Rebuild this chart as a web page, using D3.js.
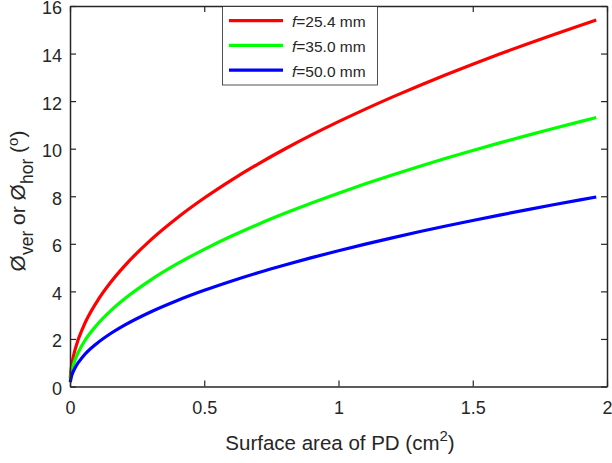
<!DOCTYPE html>
<html>
<head>
<meta charset="utf-8">
<script src="https://cdn.jsdelivr.net/npm/d3@7"></script>
<style>
  html, body { margin: 0; padding: 0; background: #fff; }
  svg { display: block; font-family: "Liberation Sans", Arial, sans-serif; }
</style>
</head>
<body>
<svg id="chart" width="612" height="463"></svg>
<script>
// Surface area of the photodiode (cm^2)
const area = [0.001, 0.005, 0.01, 0.02, 0.05, 0.1, 0.15, 0.2, 0.3, 0.4, 0.5, 0.6, 0.7,
  0.8, 0.9, 1.0, 1.1, 1.2, 1.3, 1.4, 1.5, 1.6, 1.7, 1.8, 1.9, 1.96];

// Field-of-view angle (degrees) for each focal length
const fov254 = [0.357, 0.798, 1.128, 1.595, 2.520, 3.562, 4.360, 5.031, 6.154, 7.097, 7.924,
  8.670, 9.353, 9.986, 10.578, 11.136, 11.665, 12.169, 12.650, 13.112, 13.555, 13.982,
  14.395, 14.794, 15.181, 15.410];
const fov350 = [0.259, 0.579, 0.818, 1.157, 1.830, 2.587, 3.167, 3.656, 4.474, 5.163, 5.768,
  6.315, 6.816, 7.281, 7.718, 8.130, 8.521, 8.894, 9.251, 9.594, 9.924, 10.243, 10.551,
  10.850, 11.140, 11.310];
const fov500 = [0.181, 0.405, 0.573, 0.810, 1.281, 1.811, 2.218, 2.561, 3.135, 3.619, 4.045,
  4.429, 4.783, 5.111, 5.419, 5.711, 5.987, 6.251, 6.505, 6.748, 6.982, 7.209, 7.429,
  7.641, 7.848, 7.970];

const seriesNames = ["25.4", "35.0", "50.0"];
const seriesColors = ["#ff0000", "#00ff00", "#0000ff"];
const seriesValues = [fov254, fov350, fov500];

const xTicks = [0, 0.5, 1, 1.5, 2];
const xTickLabels = ["0", "0.5", "1", "1.5", "2"];
const yTicks = [0, 2, 4, 6, 8, 10, 12, 14, 16];

const svg = d3.select("#chart");
const L = 70, R = 607, T = 6, B = 386.5;

const x = d3.scaleLinear().domain([0, 2]).range([L, R]);
const y = d3.scaleLinear().domain([0, 16]).range([B, T]);

const axisColor = "#262626";
const tickLen = 6;
const fontSize = 18;

// Curves
const line = d3.line()
  .x(d => x(d[0]))
  .y(d => y(d[1]))
  .curve(d3.curveMonotoneX);

const plot = svg.append("g");
seriesValues.forEach((vals, i) => {
  plot.append("path")
    .datum(area.map((a, j) => [a, vals[j]]))
    .attr("d", line)
    .attr("fill", "none")
    .attr("stroke", seriesColors[i])
    .attr("stroke-width", 3.2)
    .attr("stroke-linejoin", "round");
});

// Axes: ticks point inward, mirrored on top and right
const axes = svg.append("g");
axes.append("g")
  .attr("transform", `translate(0,${B})`)
  .call(d3.axisBottom(x).tickValues(xTicks).tickFormat((d, i) => xTickLabels[i])
    .tickSizeInner(-tickLen).tickSizeOuter(0).tickPadding(15));
axes.append("g")
  .attr("transform", `translate(0,${T})`)
  .call(d3.axisTop(x).tickValues(xTicks).tickFormat("")
    .tickSizeInner(-tickLen).tickSizeOuter(0));
const yAxisG = axes.append("g")
  .attr("transform", `translate(${L},0)`)
  .call(d3.axisLeft(y).tickValues(yTicks).tickFormat(d3.format("d"))
    .tickSizeInner(-tickLen).tickSizeOuter(0).tickPadding(8));
yAxisG.selectAll(".tick text").attr("dy", "0.44em");
axes.append("g")
  .attr("transform", `translate(${R},0)`)
  .call(d3.axisRight(y).tickValues(yTicks).tickFormat("")
    .tickSizeInner(-tickLen).tickSizeOuter(0));

axes.selectAll(".domain").attr("stroke", axisColor).attr("stroke-width", 1.5);
axes.selectAll(".tick line").attr("stroke", axisColor).attr("stroke-width", 1.2);
axes.selectAll(".tick text")
  .attr("fill", axisColor)
  .style("font-family", "'Liberation Sans', Arial, sans-serif")
  .style("font-size", fontSize + "px");

// Axis titles
const xt = svg.append("text")
  .attr("x", 340).attr("y", 450)
  .attr("text-anchor", "middle")
  .attr("fill", axisColor)
  .style("font-size", "20.5px");
xt.append("tspan").text("Surface area of PD (cm");
xt.append("tspan").attr("dy", -9).style("font-size", "15px").text("2");
xt.append("tspan").attr("dy", 9).text(")");

const yt = svg.append("text")
  .attr("transform", "translate(24.5,201) rotate(-90)")
  .attr("text-anchor", "middle")
  .attr("fill", axisColor)
  .style("font-size", "21px");
yt.append("tspan").text("Ø");
yt.append("tspan").attr("dy", 8).style("font-size", "17.5px").text("ver");
yt.append("tspan").attr("dy", -8).text(" or Ø");
yt.append("tspan").attr("dy", 8).style("font-size", "17.5px").text("hor");
yt.append("tspan").attr("dy", -8).text(" (");
yt.append("tspan").attr("dy", -7).style("font-size", "15px").text("o");
yt.append("tspan").attr("dy", 7).text(")");

// Legend
const lg = svg.append("g");
lg.append("rect")
  .attr("x", 222.5).attr("y", 6.5).attr("width", 155).attr("height", 78.5)
  .attr("fill", "#fff").attr("stroke", axisColor).attr("stroke-width", 0.8);
seriesNames.forEach((name, i) => {
  const cy = 20.7 + i * 24.7;
  lg.append("line")
    .attr("x1", 229).attr("x2", 283).attr("y1", cy).attr("y2", cy)
    .attr("stroke", seriesColors[i]).attr("stroke-width", 3.2);
  const t = lg.append("text")
    .attr("x", 292).attr("y", cy + 6.5)
    .attr("fill", axisColor)
    .style("font-size", "15.5px");
  t.append("tspan").style("font-style", "italic").text("f");
  t.append("tspan").text(`=${name} mm`);
});
</script>
</body>
</html>
